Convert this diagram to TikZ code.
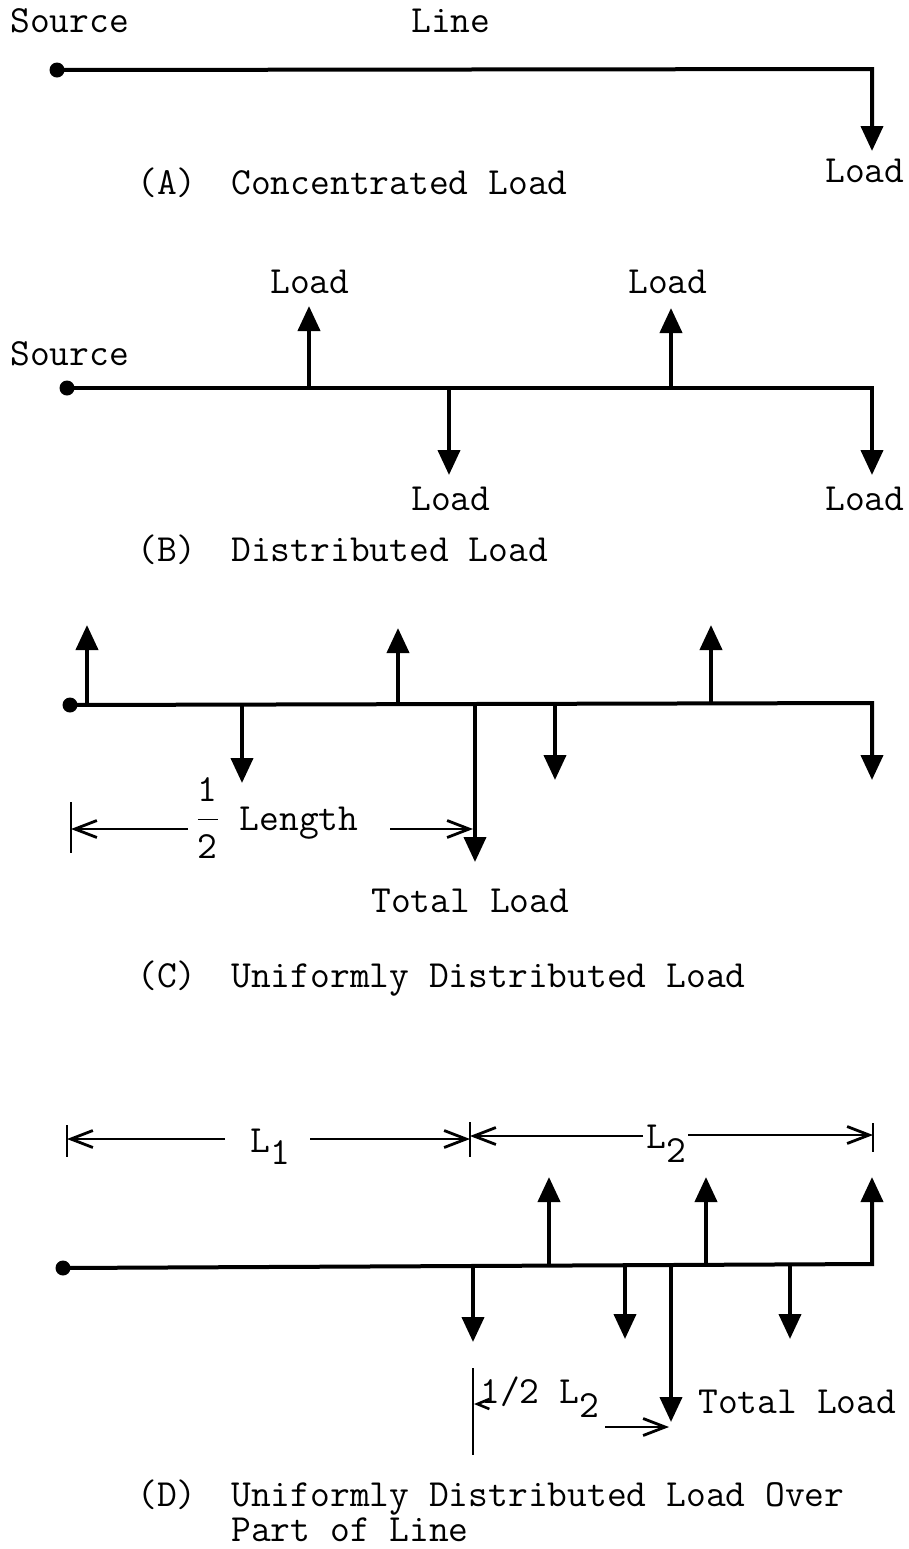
\documentclass[tikz,border=0pt]{standalone}
\usepackage{fontspec}
\usetikzlibrary{arrows.meta}
\newcommand{\halffrac}{$\displaystyle\frac{\mbox{1}}{\mbox{2}}$}
\begin{document}
\begin{tikzpicture}[x=0.5pt,y=-0.5pt,
  txt/.style={anchor=base west, inner sep=0pt, font=\ttfamily\fontsize{19.2pt}{15.5pt}\selectfont},
  main/.style={line width=2pt, line join=miter},
  ld/.style={line width=2pt, line join=miter, -{Triangle[length=12.5pt,width=11pt]}},
  dim/.style={line width=1.4pt, -{Straight Barb[length=11pt,width=8.5pt]}},
  smalldim/.style={line width=1.3pt, -{Straight Barb[length=6pt,width=5pt]}},
  bar/.style={line width=1.4pt},
  dotst/.style={circle, fill, inner sep=0pt, minimum size=7.5pt}]
\useasboundingbox (0,0) rectangle (909,1549);

% ---------- Panel A ----------
\node[txt] (srcA) at (10,32) {Source};
\node[txt] (lineA) at (411,32) {Line};
\node[dotst] (dA) at (57,70) {};
\coordinate (cA) at (872,69);
\coordinate (tA) at (872,151);
\draw[ld] (dA.center) -- (cA) -- (tA);
\node[txt] (loadA) at (825,182) {Load};
\node[txt] (capA) at (137,194) {(A)};
\node[txt] (ttlA) at (231,194) {Concentrated Load};

% ---------- Panel B ----------
\node[txt] (srcB) at (10,365) {Source};
\node[txt] (lbu1) at (270,293) {Load};
\node[txt] (lbu2) at (628,293) {Load};
\node[dotst] (dB) at (67,388) {};
\coordinate (cB) at (872,388);
\coordinate (tB) at (872,475);
\draw[ld] (dB.center) -- (cB) -- (tB);
\coordinate (bu1) at (309,388); \coordinate (bu1t) at (309,306);
\coordinate (bu2) at (671,388); \coordinate (bu2t) at (671,308);
\coordinate (bd1) at (449,388); \coordinate (bd1t) at (449,475);
\draw[ld] (bu1) -- (bu1t);
\draw[ld] (bu2) -- (bu2t);
\draw[ld] (bd1) -- (bd1t);
\node[txt] (lbd1) at (411,510) {Load};
\node[txt] (lbd2) at (825,510) {Load};
\node[txt] (capB) at (137,561) {(B)};
\node[txt] (ttlB) at (231,561) {Distributed Load};

% ---------- Panel C ----------
\node[dotst] (dC) at (70,705) {};
\coordinate (cC) at (872,703);
\coordinate (tC) at (872,780);
\draw[ld] (dC.center) -- (cC) -- (tC);
\coordinate (cu1) at (87,703);  \coordinate (cu1t) at (87,625);
\coordinate (cu2) at (398,703); \coordinate (cu2t) at (398,628);
\coordinate (cu3) at (711,703); \coordinate (cu3t) at (711,625);
\coordinate (cd1) at (242,703); \coordinate (cd1t) at (242,783);
\coordinate (cd2) at (555,703); \coordinate (cd2t) at (555,780);
\coordinate (ctl) at (475,703); \coordinate (ctlt) at (475,862);
\draw[ld] (cu1) -- (cu1t);
\draw[ld] (cu2) -- (cu2t);
\draw[ld] (cu3) -- (cu3t);
\draw[ld] (cd1) -- (cd1t);
\draw[ld] (cd2) -- (cd2t);
\draw[ld] (ctl) -- (ctlt);
\coordinate (cb1) at (71,802); \coordinate (cb2) at (71,853);
\draw[bar] (cb1) -- (cb2);
\coordinate (ca1) at (188,829); \coordinate (ca1t) at (71,829);
\coordinate (ca2) at (390,829); \coordinate (ca2t) at (473,829);
\draw[dim] (ca1) -- (ca1t);
\draw[dim] (ca2) -- (ca2t);
\node[txt] (halfC) at (195,830) {\halffrac{} Length};
\node[txt] (totC) at (371,912) {Total Load};
\node[txt] (capC) at (137,987) {(C)};
\node[txt] (ttlC) at (231,987) {Uniformly Distributed Load};

% ---------- Panel D ----------
\coordinate (db1a) at (67,1125);  \coordinate (db1b) at (67,1157);
\coordinate (db2a) at (470,1122); \coordinate (db2b) at (470,1157);
\coordinate (db3a) at (873,1123); \coordinate (db3b) at (873,1152);
\draw[bar] (db1a) -- (db1b);
\draw[bar] (db2a) -- (db2b);
\draw[bar] (db3a) -- (db3b);
\coordinate (l1a) at (225,1139); \coordinate (l1at) at (67,1139);
\coordinate (l1b) at (310,1139); \coordinate (l1bt) at (470,1139);
\coordinate (l2a) at (643,1136); \coordinate (l2at) at (470,1136);
\coordinate (l2b) at (688,1135); \coordinate (l2bt) at (873,1135);
\draw[dim] (l1a) -- (l1at);
\draw[dim] (l1b) -- (l1bt);
\draw[dim] (l2a) -- (l2at);
\draw[dim] (l2b) -- (l2bt);
\node[txt] (L1) at (250,1152) {L\raisebox{-6pt}{1}};
\node[txt] (L2) at (646,1148) {L\raisebox{-7pt}{2}};

\node[dotst] (dD) at (63,1268) {};
\coordinate (cD) at (872,1264);
\coordinate (tD) at (872,1177);
\draw[ld] (dD.center) -- (cD) -- (tD);
\coordinate (du1) at (549,1264); \coordinate (du1t) at (549,1177);
\coordinate (du2) at (706,1264); \coordinate (du2t) at (706,1177);
\coordinate (dd1) at (473,1265); \coordinate (dd1t) at (473,1342);
\coordinate (dd2) at (625,1264); \coordinate (dd2t) at (625,1339);
\coordinate (dd3) at (790,1264); \coordinate (dd3t) at (790,1339);
\coordinate (dtl) at (671,1264); \coordinate (dtlt) at (671,1422);
\draw[ld] (du1) -- (du1t);
\draw[ld] (du2) -- (du2t);
\draw[ld] (dd1) -- (dd1t);
\draw[ld] (dd2) -- (dd2t);
\draw[ld] (dd3) -- (dd3t);
\draw[ld] (dtl) -- (dtlt);
\coordinate (hb1) at (473,1368); \coordinate (hb2) at (473,1455);
\draw[bar] (hb1) -- (hb2);
\coordinate (ha1) at (480,1404); \coordinate (ha1t) at (474,1404);
\draw[smalldim] (ha1) -- (ha1t);
\node[txt] (halfD) at (480,1403) {1/2 L\raisebox{-7pt}{2}};
\coordinate (ha2) at (605,1427); \coordinate (ha2t) at (669,1427);
\draw[dim] (ha2) -- (ha2t);
\node[txt] (totD) at (698,1413) {Total Load};
\node[txt] (capD) at (137,1506) {(D)};
\node[txt, align=left] (ttlD) at (231,1541) {Uniformly Distributed Load Over\\Part of Line};
\end{tikzpicture}
\end{document}
